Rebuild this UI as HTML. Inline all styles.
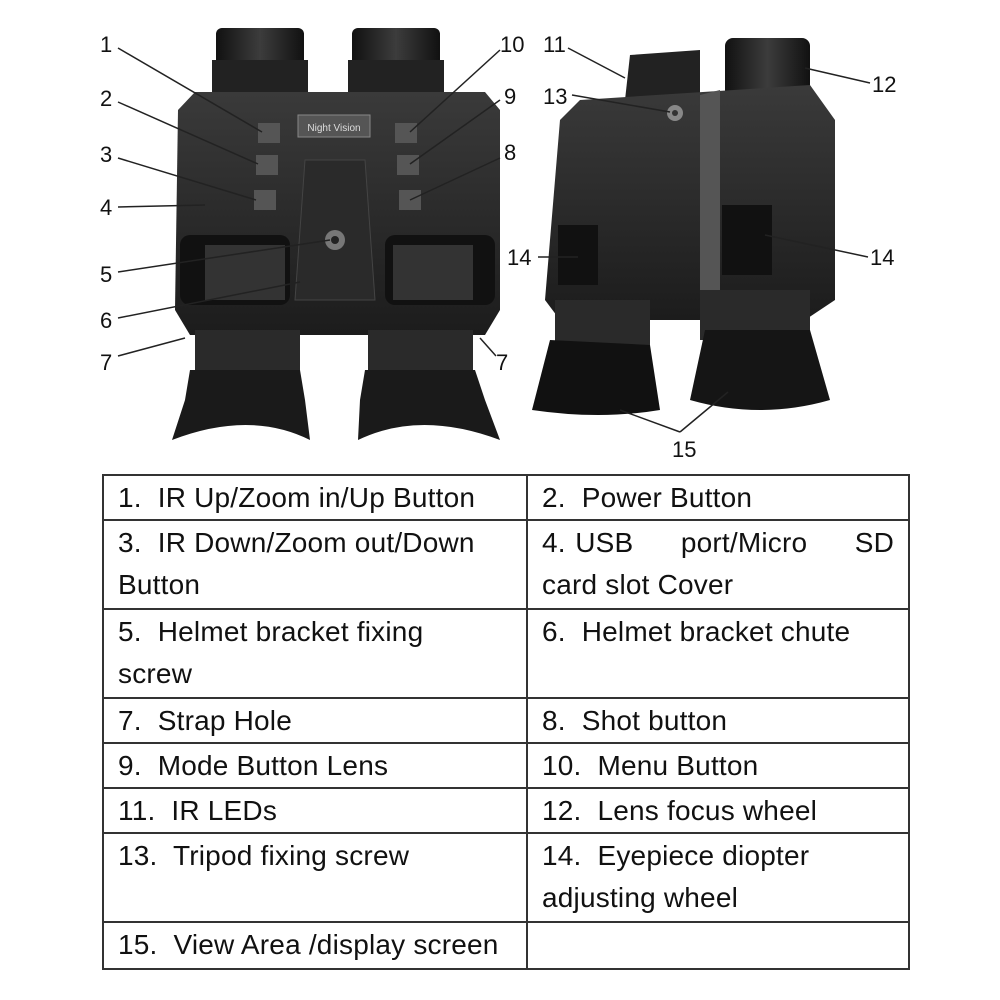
<!DOCTYPE html>
<html><head><meta charset="utf-8"><style>
html,body{margin:0;padding:0;background:#fff;}
body{width:1000px;height:1000px;position:relative;overflow:hidden;font-family:"Liberation Sans",sans-serif;}
svg{position:absolute;left:0;top:0;}
table{position:absolute;left:102px;top:474px;border-collapse:collapse;table-layout:fixed;width:806px;}
td{border:2px solid #333;font-size:28px;letter-spacing:0.2px;color:#111;padding:1px 14px 0 14px;vertical-align:top;line-height:42px;overflow:hidden;box-sizing:border-box;}
td.j{text-align:justify;}
</style></head><body>
<svg width="1000" height="470" viewBox="0 0 1000 470">
<defs>
<linearGradient id="g1" x1="0" x2="0" y1="0" y2="1"><stop offset="0" stop-color="#3a3a3a"/><stop offset="1" stop-color="#1c1c1c"/></linearGradient>
<linearGradient id="g2" x1="0" x2="1"><stop offset="0" stop-color="#111"/><stop offset=".5" stop-color="#3c3c3c"/><stop offset="1" stop-color="#111"/></linearGradient>
</defs>
<rect x="216" y="28" width="88" height="70" rx="6" fill="url(#g2)"/>
<rect x="352" y="28" width="88" height="70" rx="6" fill="url(#g2)"/>
<rect x="212" y="60" width="96" height="35" fill="#222"/>
<rect x="348" y="60" width="96" height="35" fill="#222"/>
<path d="M195 92 L485 92 L500 110 L500 310 L485 335 L190 335 L175 310 L178 110 Z" fill="url(#g1)"/>
<rect x="298" y="115" width="72" height="22" fill="#555" stroke="#888"/>
<text x="334" y="131" font-size="10" fill="#ddd" text-anchor="middle">Night Vision</text>
<path d="M305 160 L365 160 L375 300 L295 300 Z" fill="#2a2a2a" stroke="#444"/>
<rect x="180" y="235" width="110" height="70" rx="10" fill="#111"/>
<rect x="385" y="235" width="110" height="70" rx="10" fill="#111"/>
<rect x="205" y="245" width="80" height="55" fill="#333"/>
<rect x="393" y="245" width="80" height="55" fill="#333"/>
<circle cx="335" cy="240" r="10" fill="#777"/><circle cx="335" cy="240" r="4" fill="#222"/>
<g fill="#555"><rect x="258" y="123" width="22" height="20"/><rect x="256" y="155" width="22" height="20"/><rect x="254" y="190" width="22" height="20"/>
<rect x="395" y="123" width="22" height="20"/><rect x="397" y="155" width="22" height="20"/><rect x="399" y="190" width="22" height="20"/></g>
<rect x="195" y="330" width="105" height="40" fill="#2a2a2a"/>
<rect x="368" y="330" width="105" height="40" fill="#2a2a2a"/>
<path d="M190 370 L300 370 L305 400 L310 440 Q250 410 172 440 L185 400 Z" fill="#1a1a1a"/>
<path d="M365 370 L475 370 L485 400 L500 440 Q420 410 358 440 L360 400 Z" fill="#1a1a1a"/>
<path d="M630 55 L700 50 L700 95 L625 100 Z" fill="#222"/>
<rect x="725" y="38" width="85" height="60" rx="8" fill="url(#g2)"/>
<path d="M580 100 L810 85 L835 120 L835 300 L805 320 L560 320 L545 300 L560 120 Z" fill="url(#g1)"/>
<path d="M700 95 L720 90 L720 320 L700 320 Z" fill="#555"/>
<circle cx="675" cy="113" r="8" fill="#888"/><circle cx="675" cy="113" r="3" fill="#333"/>
<rect x="558" y="225" width="40" height="60" fill="#111"/>
<rect x="722" y="205" width="50" height="70" fill="#111"/>
<rect x="555" y="300" width="95" height="50" fill="#2a2a2a"/>
<rect x="700" y="290" width="110" height="50" fill="#2a2a2a"/>
<path d="M550 340 L650 345 L660 410 Q600 420 532 410 Z" fill="#111"/>
<path d="M705 330 L810 330 L830 400 Q760 420 690 400 Z" fill="#151515"/>
<g stroke="#222" stroke-width="1.5" fill="none">
<line x1="118" y1="48" x2="262" y2="132"/>
<line x1="118" y1="102" x2="258" y2="164"/>
<line x1="118" y1="158" x2="256" y2="200"/>
<line x1="118" y1="207" x2="205" y2="205"/>
<line x1="118" y1="272" x2="330" y2="240"/>
<line x1="118" y1="318" x2="300" y2="282"/>
<line x1="118" y1="356" x2="185" y2="338"/>
<line x1="500" y1="50" x2="410" y2="132"/>
<line x1="500" y1="100" x2="410" y2="164"/>
<line x1="500" y1="158" x2="410" y2="200"/>
<line x1="496" y1="356" x2="480" y2="338"/>
<line x1="568" y1="48" x2="625" y2="78"/>
<line x1="572" y1="95" x2="670" y2="112"/>
<line x1="870" y1="83" x2="805" y2="68"/>
<line x1="538" y1="257" x2="578" y2="257"/>
<line x1="868" y1="257" x2="765" y2="235"/>
<line x1="680" y1="432" x2="620" y2="410"/>
<line x1="680" y1="432" x2="728" y2="392"/>
</g>
<g font-size="22" fill="#111">
<text x="100" y="52">1</text><text x="100" y="106">2</text><text x="100" y="162">3</text><text x="100" y="215">4</text>
<text x="100" y="282">5</text><text x="100" y="328">6</text><text x="100" y="370">7</text>
<text x="500" y="52">10</text><text x="504" y="104">9</text><text x="504" y="160">8</text><text x="496" y="370">7</text>
<text x="543" y="52">11</text><text x="543" y="104">13</text><text x="872" y="92">12</text>
<text x="507" y="265">14</text><text x="870" y="265">14</text><text x="672" y="457">15</text>
</g>
</svg>
<table>
<colgroup><col style="width:424px"><col style="width:382px"></colgroup>
<tr style="height:45px"><td>1.&nbsp; IR Up/Zoom in/Up Button</td><td>2.&nbsp; Power Button</td></tr>
<tr style="height:89px"><td>3.&nbsp; IR Down/Zoom out/Down Button</td><td class="j">4. USB&nbsp;&nbsp;&nbsp;&nbsp; port/Micro&nbsp;&nbsp;&nbsp;&nbsp; SD card slot Cover</td></tr>
<tr style="height:89px"><td>5.&nbsp; Helmet bracket fixing<br>screw</td><td>6.&nbsp; Helmet bracket chute</td></tr>
<tr style="height:45px"><td>7.&nbsp; Strap Hole</td><td>8.&nbsp; Shot button</td></tr>
<tr style="height:45px"><td>9.&nbsp; Mode Button Lens</td><td>10.&nbsp; Menu Button</td></tr>
<tr style="height:45px"><td>11.&nbsp; IR LEDs</td><td>12.&nbsp; Lens focus wheel</td></tr>
<tr style="height:89px"><td>13.&nbsp; Tripod fixing screw</td><td>14.&nbsp; Eyepiece diopter adjusting wheel</td></tr>
<tr style="height:47px"><td style="white-space:nowrap">15.&nbsp; View Area /display screen</td><td></td></tr>
</table>
</body></html>
